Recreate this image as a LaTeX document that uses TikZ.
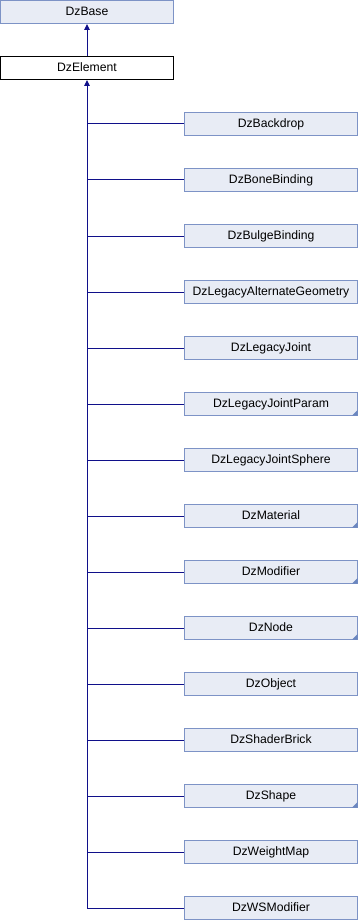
\documentclass[tikz,border=0pt]{standalone}
\usepackage{fontspec}
\setmainfont{Liberation Sans}
\usetikzlibrary{arrows.meta}
\definecolor{boxfill}{HTML}{E8ECF5}
\definecolor{boxline}{HTML}{7D93C6}
\definecolor{cornercol}{HTML}{6A86BF}
\definecolor{edgecol}{HTML}{10108A}
\begin{document}
\begin{tikzpicture}[x=1pt,y=-1pt,
  cls/.style={draw=boxline,fill=boxfill,line width=1pt,rectangle,
    minimum width=173pt,minimum height=23pt,inner sep=0pt,
    text height=8.6pt,text depth=2.4pt,
    font=\fontsize{12.2}{14}\selectfont},
  cur/.style={cls,draw=black,fill=white},
  edge/.style={draw=edgecol,line width=1pt},
  tip/.style={{Triangle[width=5.5pt,length=6pt]}-}]
\useasboundingbox (0,0) rectangle (358,920);
\node[cls] (base) at (87,12) {DzBase};
\node[cur] (elem) at (87,68) {DzElement};
\draw[edge,tip,fill=edgecol] (base.south) -- (elem.north);
% derived classes
\foreach \nm/\lbl/\more [count=\i] in {
  backdrop/DzBackdrop/0, bone/DzBoneBinding/0, bulge/DzBulgeBinding/0,
  altgeom/DzLegacyAlternateGeometry/0, ljoint/DzLegacyJoint/0,
  ljparam/DzLegacyJointParam/1, ljsphere/DzLegacyJointSphere/0,
  material/DzMaterial/1, modifier/DzModifier/1, dznode/DzNode/1,
  object/DzObject/0, shader/DzShaderBrick/0, shape/DzShape/1,
  weight/DzWeightMap/0, wsmod/DzWSModifier/0}{
  \node[cls] (\nm) at (271,{124+56*(\i-1)}) {\lbl};
  \ifnum\more=1
    \fill[cornercol] ([xshift=-0.5pt,yshift=0.5pt]\nm.south east) -- ++(-5.5,0) -- ++(5.5,-5.5) -- cycle;
  \fi
  \draw[edge] (elem.south |- \nm.west) -- (\nm.west);
}
\draw[edge,tip,fill=edgecol] (elem.south) -- (elem.south |- wsmod.west);
\end{tikzpicture}
\end{document}
